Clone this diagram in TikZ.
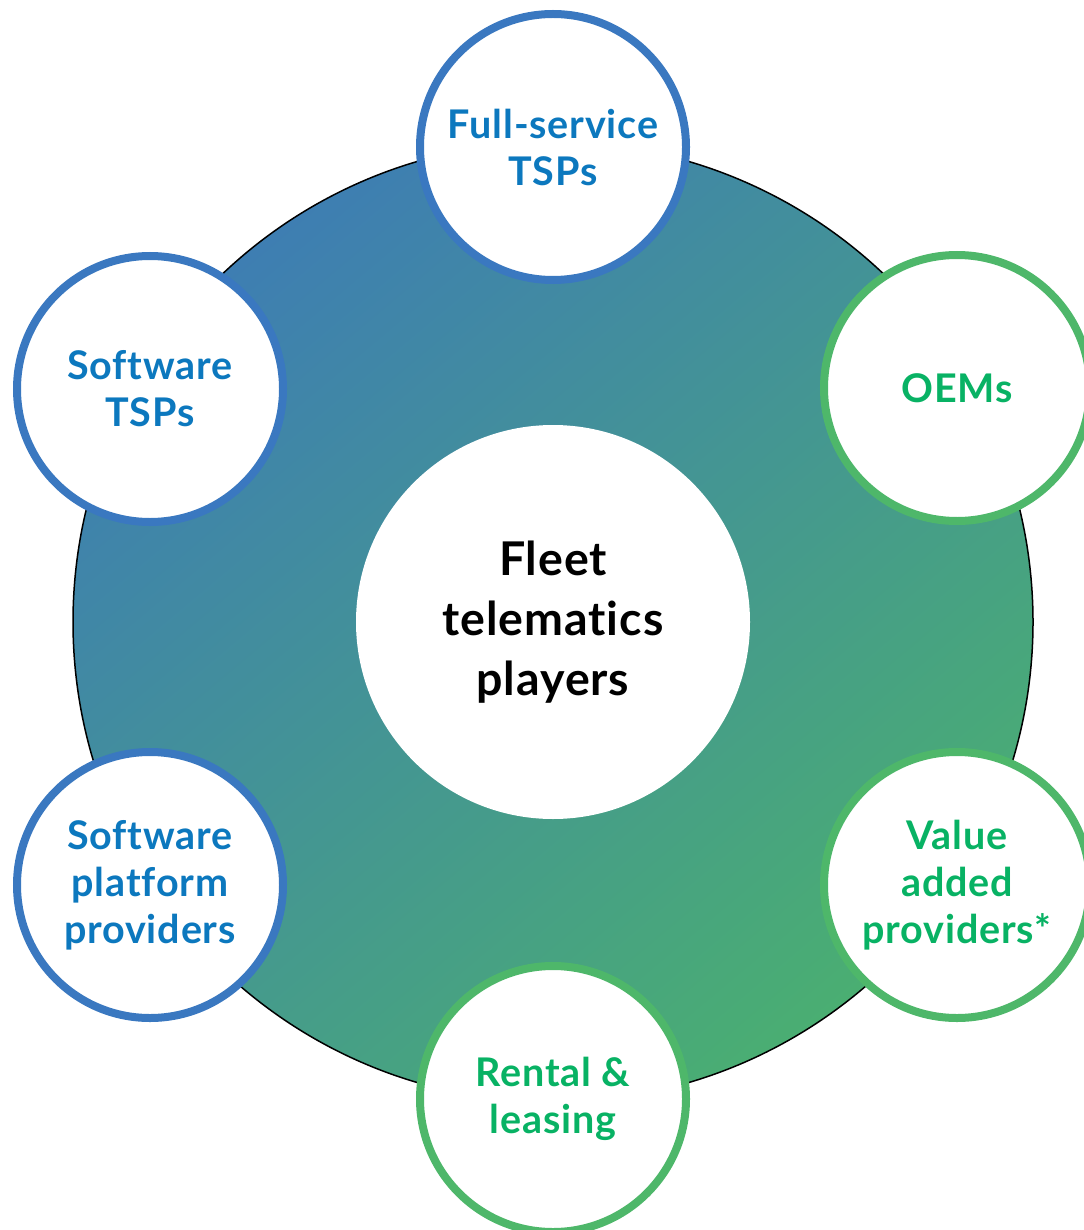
\documentclass[tikz,border=0pt]{standalone}
\usepackage{fontspec}
\setmainfont{Lato}[Ligatures={NoCommon}, LetterSpace=2]
\definecolor{gradA}{RGB}{62,126,178}
\definecolor{gradB}{RGB}{74,174,114}
\definecolor{ringblue}{RGB}{58,120,192}
\definecolor{ringgreen}{RGB}{78,183,106}
\definecolor{txtblue}{RGB}{12,120,190}
\definecolor{txtgreen}{RGB}{8,178,100}
\tikzset{
  bigring/.style={circle, minimum size=960pt, inner sep=0pt, draw=black, line width=1.5pt,
     shading=axis, top color=gradA, bottom color=gradB, shading angle=40},
  hub/.style={circle, minimum size=394pt, inner sep=0pt, fill=white,
     font=\fontsize{46.5}{60}\selectfont\bfseries, align=center, text=black},
  player/.style={circle, minimum size=266pt, inner sep=0pt, fill=white, line width=8pt,
     font=\fontsize{39.5}{47}\selectfont\bfseries, align=center},
  blueplayer/.style={player, draw=ringblue, text=txtblue},
  greenplayer/.style={player, draw=ringgreen, text=txtgreen}
}
\begin{document}
\begin{tikzpicture}[x=1pt,y=-1pt]
\useasboundingbox (0,0) rectangle (1083,1230);
\node[bigring] (ring) at (553,622) {};
\node[hub] (hub) at (553,622) {Fleet\\telematics\\players};
\node[blueplayer] (full) at (553,147) {Full-service\\TSPs};
\node[blueplayer] (swtsp) at (150,389) {Software\\TSPs};
\node[blueplayer] (swplat) at (150,885) {Software\\platform\\providers};
\node[greenplayer] (oems) at (957,388) {OEMs};
\node[greenplayer] (vap) at (957,885) {Value\\added\\providers*};
\node[greenplayer] (rental) at (553,1099) {Rental \&\\leasing};
\end{tikzpicture}
\end{document}
